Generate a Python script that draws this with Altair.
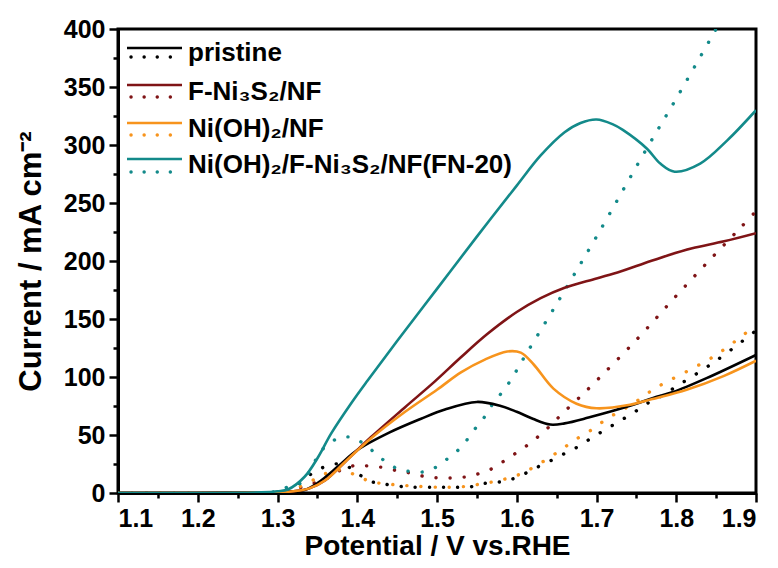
import altair as alt
import pandas as pd

# ---------------- data ----------------
series = ["pristine", "F-Ni3S2/NF", "Ni(OH)2/NF", "FN-20"]
labels = ["pristine", "F-Ni₃S₂/NF", "Ni(OH)₂/NF", "Ni(OH)₂/F-Ni₃S₂/NF(FN-20)"]
colors = ["#000000", "#7F1416", "#F7941D", "#138A8A"]

# pristine
pri_solid_V = [1.10, 1.20, 1.28, 1.31, 1.334, 1.351, 1.376, 1.40, 1.44, 1.48, 1.51, 1.55,
               1.58, 1.60, 1.62, 1.642, 1.66, 1.69, 1.746, 1.771, 1.796, 1.838, 1.9]
pri_solid_I = [0, 0, 0.5, 1, 2.6, 9, 23, 37, 52, 64, 72, 78.5,
               75, 70, 64, 59, 60, 65, 76, 82, 87, 99, 119]
pri_dot_V = [1.10, 1.28, 1.31, 1.328, 1.348, 1.366, 1.382, 1.40, 1.417, 1.432, 1.45, 1.47, 1.50,
             1.52, 1.54, 1.556, 1.573, 1.59, 1.608, 1.625, 1.643, 1.66, 1.677, 1.695, 1.712,
             1.729, 1.746, 1.763, 1.78, 1.796, 1.85, 1.9]
pri_dot_I = [0, 0, 2, 9, 19, 24, 25, 17, 10, 8, 6, 5, 5,
             5, 5, 8, 9, 11, 16, 22, 28, 34, 40, 48, 55,
             62, 69, 77, 83, 90, 114, 140]

# F-Ni3S2/NF
fns_solid_V = [1.10, 1.20, 1.29, 1.32, 1.34, 1.36, 1.385, 1.417, 1.46, 1.497, 1.53, 1.563, 1.60,
               1.63, 1.66, 1.70, 1.73, 1.76, 1.79, 1.82, 1.86, 1.9]
fns_solid_I = [0, 0, 0.3, 1.5, 4, 11, 27, 48, 74, 96, 117, 137, 156,
               168, 177, 185, 191, 198, 205, 211, 217, 224]
fns_dot_V = [1.10, 1.28, 1.31, 1.33, 1.348, 1.363, 1.38, 1.40, 1.416, 1.433, 1.451, 1.468, 1.486,
             1.503, 1.52, 1.537, 1.554, 1.572, 1.589, 1.607, 1.624, 1.642, 1.658, 1.675, 1.693,
             1.75, 1.80, 1.849, 1.881, 1.9]
fns_dot_I = [0, 0, 1.5, 5, 9, 13, 20, 24, 23, 22, 19, 17, 14,
             13, 13, 14, 17, 22, 30, 38, 47, 58, 69, 80, 92,
             132, 170, 206, 229, 243]

# Ni(OH)2/NF
noh_solid_V = [1.10, 1.20, 1.29, 1.32, 1.34, 1.36, 1.385, 1.417, 1.46, 1.50, 1.53, 1.56, 1.588,
               1.605, 1.621, 1.646, 1.675, 1.70, 1.742, 1.77, 1.813, 1.86, 1.9]
noh_solid_I = [0, 0, 0.3, 1.5, 4, 11, 27, 47, 70, 89, 104, 115, 122,
               121, 111, 90, 77, 73, 76, 81, 89, 101, 114]
noh_dot_V = [1.10, 1.28, 1.31, 1.33, 1.35, 1.365, 1.381, 1.399, 1.416, 1.433, 1.45, 1.47, 1.50,
             1.52, 1.54, 1.556, 1.573, 1.59, 1.607, 1.623, 1.642, 1.659, 1.676, 1.695, 1.711,
             1.728, 1.746, 1.762, 1.778, 1.85, 1.9]
noh_dot_I = [0, 0, 1.5, 6, 13, 18, 20, 15, 10, 8, 7, 6, 5,
             5, 6, 8, 10, 13, 17, 23, 31, 39, 47, 55, 63,
             70, 77, 85, 92, 119, 145]

# Ni(OH)2/F-Ni3S2/NF (FN-20)
fn20_solid_V = [1.10, 1.20, 1.28, 1.30, 1.313, 1.334, 1.351, 1.367, 1.392, 1.413, 1.45, 1.50, 1.55,
                1.60, 1.63, 1.66, 1.68, 1.70, 1.72, 1.733, 1.763, 1.78, 1.798, 1.83, 1.864, 1.9]
fn20_solid_I = [0, 0, 0.5, 1.5, 3, 14, 31, 51, 77, 97, 131, 176, 221,
                265, 291, 311, 319, 322, 318, 313, 297, 284, 277, 284, 304, 330]
fn20_dot_V = [1.10, 1.28, 1.30, 1.312, 1.33, 1.357, 1.376, 1.393, 1.411, 1.428, 1.447, 1.462, 1.481,
              1.498, 1.514, 1.531, 1.545, 1.559, 1.570, 1.583, 1.595, 1.605, 1.65, 1.70, 1.763,
              1.80, 1.85]
fn20_dot_I = [0, 0, 1.5, 5, 9, 38, 47, 48, 41, 31, 22, 19, 18,
              22, 30, 40, 53, 65, 77, 88, 100, 112, 163, 221, 297,
              340, 400]

x_ticks = [round(1.1 + 0.05 * k, 2) for k in range(17)]
y_ticks = list(range(0, 401, 25))

# ---------------- build tables ----------------
curves = [
    ("pristine", "solid", pri_solid_V, pri_solid_I),
    ("pristine", "dot", pri_dot_V, pri_dot_I),
    ("F-Ni3S2/NF", "solid", fns_solid_V, fns_solid_I),
    ("F-Ni3S2/NF", "dot", fns_dot_V, fns_dot_I),
    ("Ni(OH)2/NF", "solid", noh_solid_V, noh_solid_I),
    ("Ni(OH)2/NF", "dot", noh_dot_V, noh_dot_I),
    ("FN-20", "solid", fn20_solid_V, fn20_solid_I),
    ("FN-20", "dot", fn20_dot_V, fn20_dot_I),
]
rows = []
for name, style, V, I in curves:
    for v, i in zip(V, I):
        rows.append({"series": name, "style": style, "V": v, "I": i})
df = pd.DataFrame(rows)

color_scale = alt.Scale(domain=series, range=colors)
FONT = "Liberation Sans"

x_axis = alt.Axis(
    values=x_ticks,
    labelExpr="round(datum.value*100) % 10 === 0 ? format(datum.value, '.1f') : ''",
    tickSize={"condition": {"test": "round(datum.value*100) % 10 === 0", "value": 9}, "value": 5},
    title="Potential / V vs.RHE",
    titleFontSize=28,
    titlePadding=1,
    grid=False,
)
y_axis = alt.Axis(
    values=y_ticks,
    labelExpr="datum.value % 50 === 0 ? datum.label : ''",
    tickSize={"condition": {"test": "datum.value % 50 === 0", "value": 9}, "value": 5},
    title="Current / mA cm⁻²",
    titleFontSize=31,
    titlePadding=16,
    grid=False,
)

base = alt.Chart(df).encode(
    x=alt.X("V:Q", scale=alt.Scale(domain=[1.1, 1.9], nice=False, zero=False), axis=x_axis),
    y=alt.Y("I:Q", scale=alt.Scale(domain=[0, 400], nice=False), axis=y_axis),
    color=alt.Color("series:N", scale=color_scale, legend=None),
    detail="style:N",
)

solid = base.transform_filter(alt.datum.style == "solid").mark_line(
    strokeWidth=2.6, interpolate="catmull-rom", clip=True
)
dotted = base.transform_filter(alt.datum.style == "dot").mark_line(
    strokeWidth=3.4, strokeDash=[0.1, 14], strokeCap="round", interpolate="catmull-rom", clip=True
)

# ---------------- legend (drawn inside the plot) ----------------
leg = pd.DataFrame({
    "series": series,
    "label": labels,
    "y_solid": [19, 56, 94, 130],
    "y_dot": [28, 68, 106, 143],
    "y_text": [24, 63, 100, 136],
})
leg_base = alt.Chart(leg).encode(color=alt.Color("series:N", scale=color_scale, legend=None))
leg_solid = leg_base.mark_rule(strokeWidth=2.6).encode(
    x=alt.value(9), x2=alt.value(64), y=alt.Y("y_solid:Q", scale=None)
)
leg_dot = leg_base.mark_rule(strokeWidth=3.4, strokeDash=[0.1, 13], strokeCap="round").encode(
    x=alt.value(13), x2=alt.value(64), y=alt.Y("y_dot:Q", scale=None)
)
leg_text = alt.Chart(leg).mark_text(
    align="left", baseline="middle", font=FONT, fontWeight="bold", fontSize=26, color="black"
).encode(x=alt.value(70), y=alt.Y("y_text:Q", scale=None), text="label:N")

chart = alt.layer(dotted, solid, leg_solid, leg_dot, leg_text).properties(
    width=638,
    height=464,
    autosize=alt.AutoSizeParams(type="none"),
    padding={"left": 110, "top": 21, "right": 14, "bottom": 67},
).configure_view(
    stroke="black", strokeWidth=3
).configure_axis(
    domainColor="black", domainWidth=3, tickColor="black", tickWidth=2.5,
    labelFont=FONT, labelFontWeight="bold", labelFontSize=25, labelColor="black",
    titleFont=FONT, titleFontWeight="bold", titleColor="black",
    labelPadding=4,
)

chart.save("out.html", embed_options={"renderer": "svg", "actions": False})
